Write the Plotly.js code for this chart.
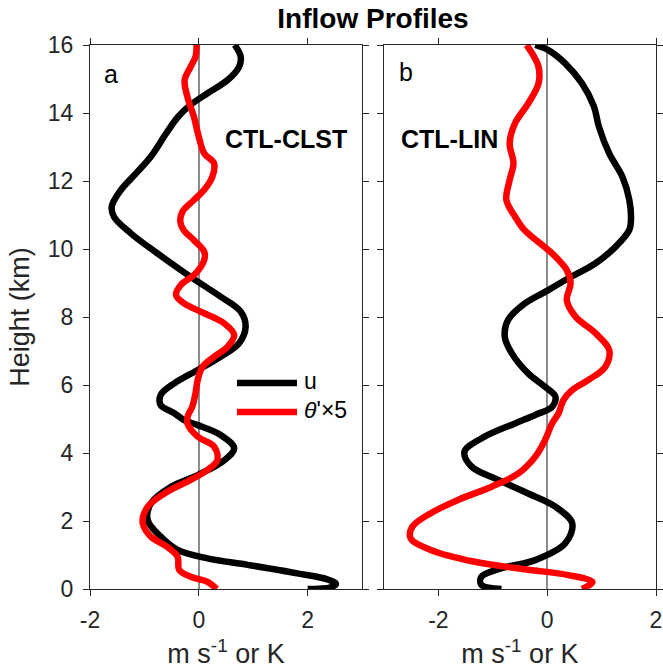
<!DOCTYPE html>
<html>
<head>
<meta charset="utf-8">
<script src="https://cdn.plot.ly/plotly-3.0.1.min.js"></script>
<style>html,body{margin:0;padding:0;background:#fff;}#chart{width:663px;height:671px;}</style>
</head>
<body>
<div id="chart"></div>
<script>
// ---- Panel a (CTL-CLST) ----
var uA_z = [0.0, 0.05, 0.15, 0.28, 0.46, 0.71, 0.90, 1.15, 1.54, 2.03, 2.52, 3.01, 3.35, 3.79, 4.14, 4.53, 4.82, 4.97, 5.17, 5.41, 5.71, 6.05, 6.44, 6.83, 7.23, 7.71, 8.16, 8.6, 9.04, 9.38, 9.87, 10.46, 10.95, 11.25, 11.74, 12.23, 12.72, 13.4, 13.89, 14.24, 14.58, 14.97, 15.36, 15.66, 16.0];
var uA_v = [2.0, 2.42, 2.52, 2.37, 1.81, 0.9, 0.16, -0.39, -0.70, -0.94, -0.88, -0.51, -0.02, 0.47, 0.65, 0.40, -0.02, -0.27, -0.45, -0.70, -0.70, -0.45, -0.02, 0.40, 0.74, 0.86, 0.77, 0.40, -0.02, -0.33, -0.76, -1.25, -1.56, -1.60, -1.43, -1.15, -0.88, -0.60, -0.38, -0.15, 0.16, 0.53, 0.74, 0.77, 0.66];
var tA_z = [0.0, 0.21, 0.36, 0.56, 0.95, 1.24, 1.54, 1.93, 2.42, 2.86, 3.21, 3.5, 3.79, 4.19, 4.48, 4.87, 5.1, 5.36, 5.76, 6.15, 6.54, 6.83, 7.13, 7.47, 7.81, 8.11, 8.4, 8.65, 8.94, 9.28, 9.68, 9.92, 10.26, 10.56, 10.8, 11.1, 11.44, 11.74, 12.13, 12.52, 12.81, 13.3, 13.89, 14.48, 14.97, 15.36, 15.66, 16.0];
var tA_v = [0.33, 0.16, -0.15, -0.36, -0.39, -0.58, -0.88, -1.03, -0.94, -0.58, -0.15, 0.16, 0.34, 0.28, -0.02, -0.21, -0.20, -0.12, -0.06, -0.02, 0.07, 0.28, 0.53, 0.65, 0.47, 0.10, -0.27, -0.42, -0.33, -0.06, 0.10, 0.10, -0.09, -0.28, -0.34, -0.30, -0.09, 0.10, 0.25, 0.28, 0.10, 0.0, -0.09, -0.21, -0.26, -0.15, -0.06, -0.04];

// ---- Panel b (CTL-LIN) ----
var uB_z = [0.0, 0.12, 0.36, 0.61, 0.85, 1.34, 1.93, 2.42, 2.81, 3.21, 3.6, 4.04, 4.48, 4.87, 5.12, 5.36, 5.66, 5.95, 6.34, 6.93, 7.42, 7.91, 8.4, 8.79, 9.14, 9.58, 10.07, 10.56, 10.85, 11.44, 12.13, 12.81, 13.6, 14.19, 14.87, 15.46, 15.85, 16.0];
var uB_v = [-0.84, -1.21, -1.21, -0.84, -0.22, 0.33, 0.46, 0.15, -0.35, -0.90, -1.39, -1.52, -1.15, -0.59, -0.22, 0.09, 0.15, -0.04, -0.35, -0.65, -0.78, -0.72, -0.41, 0.02, 0.39, 0.89, 1.26, 1.51, 1.54, 1.51, 1.38, 1.14, 0.95, 0.86, 0.64, 0.33, 0.02, -0.22];
var tB_z = [0.0, 0.1, 0.21, 0.41, 0.58, 0.8, 1.15, 1.49, 1.83, 2.23, 2.62, 3.01, 3.4, 3.89, 4.38, 4.87, 5.17, 5.56, 5.85, 6.15, 6.54, 7.03, 7.52, 8.01, 8.5, 8.99, 9.38, 9.87, 10.36, 10.56, 10.95, 11.44, 12.03, 12.52, 13.11, 13.7, 14.28, 14.87, 15.36, 15.76, 16.0];
var tB_v = [0.64, 0.76, 0.83, 0.39, -0.41, -1.33, -2.14, -2.51, -2.48, -2.14, -1.64, -1.02, -0.53, -0.22, -0.04, 0.09, 0.21, 0.30, 0.46, 0.76, 1.07, 1.14, 0.89, 0.52, 0.36, 0.43, 0.36, 0.09, -0.28, -0.42, -0.59, -0.75, -0.69, -0.62, -0.69, -0.59, -0.35, -0.16, -0.16, -0.28, -0.38];

var xTickVals = [-2, 0, 2];
var xTickText = ['-2', '0', '2'];
var yTickVals = [0, 2, 4, 6, 8, 10, 12, 14, 16];
var yTickText = ['0', '2', '4', '6', '8', '10', '12', '14', '16'];

var titleText = 'Inflow Profiles';
var panelLabels = ['a', 'b'];
var caseLabels = ['CTL-CLST', 'CTL-LIN'];
var seriesNames = ['u', '<i>θ</i>\'×5'];
var xTitle = 'm s<sup>-1</sup> or K';
var yTitle = 'Height (km)';

var FONT = '"Liberation Sans", Arial, Helvetica, sans-serif';
var AX = '#262626';
var LW = 6.5;

function tr(x, y, color, xa, ya) {
  return {x: x, y: y, type: 'scatter', mode: 'lines', xaxis: xa, yaxis: ya,
    line: {color: color, width: LW, shape: 'spline', smoothing: 1.0},
    hoverinfo: 'skip', showlegend: false};
}

var data = [
  tr(uA_v, uA_z, '#000000', 'x', 'y'),
  tr(tA_v, tA_z, '#ff0000', 'x', 'y'),
  tr(uB_v, uB_z, '#000000', 'x2', 'y2'),
  tr(tB_v, tB_z, '#ff0000', 'x2', 'y2')
];

function xax(range, dom, anchor) {
  return {domain: dom, range: range, anchor: anchor, tickmode: 'array', tickvals: xTickVals, ticktext: xTickText,
    ticks: 'outside', ticklen: 6, tickwidth: 1, tickcolor: AX, ticklabelstandoff: 4,
    showline: true, linecolor: AX, linewidth: 1, mirror: 'ticks',
    showgrid: false, zeroline: true, zerolinecolor: '#8c8c8c', zerolinewidth: 1.5,
    tickfont: {family: FONT, size: 23, color: '#262626'},
    title: {text: xTitle, font: {family: FONT, size: 27, color: '#262626'}, standoff: 12},
    fixedrange: true};
}
function yax(anchor, showLabels, title) {
  var o = {domain: [0, 1], range: [0, 16], anchor: anchor, tickmode: 'array', tickvals: yTickVals, ticktext: yTickText,
    ticks: 'outside', ticklen: 6, tickwidth: 1, tickcolor: AX, ticklabelstandoff: 5,
    showline: true, linecolor: AX, linewidth: 1, mirror: 'ticks',
    showgrid: false, zeroline: false, showticklabels: showLabels,
    tickfont: {family: FONT, size: 23, color: '#262626'}, fixedrange: true};
  if (title) o.title = {text: title, font: {family: FONT, size: 27, color: '#262626'}, standoff: 10};
  return o;
}

var layout = {
  width: 663, height: 671,
  margin: {l: 90, r: 7, t: 45, b: 82},
  paper_bgcolor: '#ffffff', plot_bgcolor: '#ffffff',
  showlegend: false,
  title: {text: '<b>' + titleText + '</b>', x: 0.5, xref: 'paper', xanchor: 'center',
    y: 0.973, yref: 'container', yanchor: 'middle',
    font: {family: FONT, size: 28, color: '#000'}},
  xaxis: xax([-2, 3], [0, 0.4806], 'y'),
  yaxis: yax('x', true, yTitle),
  xaxis2: xax([-3, 2], [0.5194, 1], 'y2'),
  yaxis2: yax('x2', false, null),
  shapes: [
    {type: 'line', xref: 'paper', yref: 'paper', x0: 0.2597, x1: 0.3657, y0: 0.3787, y1: 0.3787,
      line: {color: '#000000', width: LW}},
    {type: 'line', xref: 'paper', yref: 'paper', x0: 0.2597, x1: 0.3657, y0: 0.3254, y1: 0.3254,
      line: {color: '#ff0000', width: LW}}
  ],
  annotations: [
    {text: panelLabels[0], xref: 'paper', yref: 'paper', x: (111 - 90) / 566, y: (589 - 74) / 544,
      xanchor: 'center', yanchor: 'middle', showarrow: false, font: {family: FONT, size: 25, color: '#000'}},
    {text: panelLabels[1], xref: 'paper', yref: 'paper', x: (406 - 90) / 566, y: (589 - 72) / 544,
      xanchor: 'center', yanchor: 'middle', showarrow: false, font: {family: FONT, size: 25, color: '#000'}},
    {text: '<b>' + caseLabels[0] + '</b>', xref: 'paper', yref: 'paper', x: (286 - 90) / 566, y: (589 - 139) / 544,
      xanchor: 'center', yanchor: 'middle', showarrow: false, font: {family: FONT, size: 25, color: '#000'}},
    {text: '<b>' + caseLabels[1] + '</b>', xref: 'paper', yref: 'paper', x: (449 - 90) / 566, y: (589 - 139) / 544,
      xanchor: 'center', yanchor: 'middle', showarrow: false, font: {family: FONT, size: 25, color: '#000'}},
    {text: seriesNames[0], xref: 'paper', yref: 'paper', x: (302 - 90) / 566, y: (589 - 381) / 544,
      xanchor: 'left', yanchor: 'middle', showarrow: false, font: {family: FONT, size: 23, color: '#000'}},
    {text: seriesNames[1], xref: 'paper', yref: 'paper', x: (302 - 90) / 566, y: (589 - 410) / 544,
      xanchor: 'left', yanchor: 'middle', showarrow: false, font: {family: FONT, size: 23, color: '#000'}}
  ]
};

Plotly.newPlot('chart', data, layout, {displayModeBar: false, staticPlot: true});
</script>
</body>
</html>
